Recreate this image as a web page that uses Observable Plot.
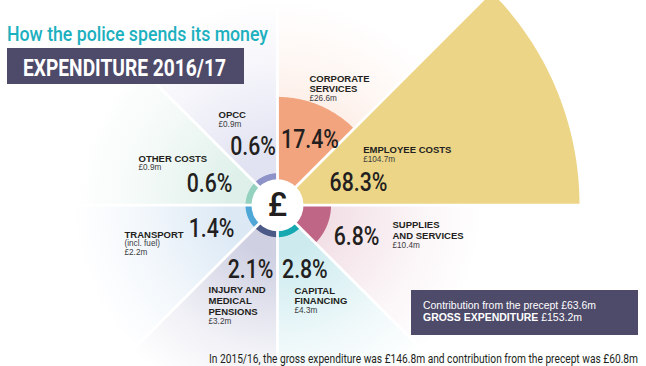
<!DOCTYPE html>
<html><head><meta charset="utf-8">
<script src="https://cdn.jsdelivr.net/npm/d3@7"></script>
<script src="https://cdn.jsdelivr.net/npm/@observablehq/plot@0.6"></script>
<style>
html,body{margin:0;padding:0;background:#fff;}
#wrap{position:relative;width:646px;height:366px;overflow:hidden;}
#chart{position:absolute;left:0;top:0;}
.t{position:absolute;white-space:nowrap;line-height:1;transform-origin:0 0;}
.box{position:absolute;background:#4e4a69;}
#title{left:7px;top:21.6px;font:500 21px Roboto,sans-serif;color:#1cb0bf;}
#subbox{left:7px;top:48px;width:237px;height:36px;}
#subtitle{left:23px;top:54.6px;font:700 23px Roboto,sans-serif;color:#fff;}
#infobox{left:411px;top:290px;width:227px;height:45px;}
#info1{left:423px;top:300.2px;font:400 10.4px "Liberation Sans",Arial,sans-serif;color:#fff;}
#info2{left:423px;top:312.2px;font:400 10.4px "Liberation Sans",Arial,sans-serif;color:#fff;}
#footer{left:209px;top:351px;font:400 12.4px Roboto,sans-serif;color:#231f20;}
</style></head>
<body>
<div id="wrap">
  <div id="chart"></div>
  <div id="title" class="t"></div>
  <div class="box" id="subbox"></div>
  <div id="subtitle" class="t"></div>
  <div class="box" id="infobox"></div>
  <div id="info1" class="t"></div>
  <div id="info2" class="t"></div>
  <div id="footer" class="t"></div>
</div>
<script>
// ---------- data ----------
const titleText = "How the police spends its money";
const subtitleText = "EXPENDITURE 2016/17";
const categories = ["CORPORATE\nSERVICES", "EMPLOYEE COSTS", "SUPPLIES\nAND SERVICES", "CAPITAL\nFINANCING",
                    "INJURY AND\nMEDICAL\nPENSIONS", "TRANSPORT", "OTHER COSTS", "OPCC"];
const notes = ["", "", "", "", "", "(incl. fuel)", "", ""];
const shares = [17.4, 68.3, 6.8, 2.8, 2.1, 1.4, 0.6, 0.6];        // % of gross expenditure
const amounts = [26.6, 104.7, 10.4, 4.3, 3.2, 2.2, 0.9, 0.9];     // £m
const precept = 63.6;
const grossExpenditure = 153.2;
const prevYear = "2015/16";
const prevGross = 146.8;
const prevPrecept = 60.8;

// ---------- styles ----------
const colors = ["#f2a47f", "#ecd587", "#bf6585", "#17a9b2", "#4b5a86", "#4ea7d6", "#94d2bf", "#8d92c8"];
const pale   = ["#fce4d8", "#fbf1d6", "#f2dfe6", "#cdebef", "#cfd0e2", "#dce9f5", "#dff0ea", "#e2e3f2"];

// ---------- layout (px offsets from the centre, y downward) ----------
const pctAt  = [[32.5,-57.7],[81,-14.7],[79,39.8],[27.4,72.3],[-27,72.3],[-66,32],[-68,-13],[-24.5,-50.7]];
const nameAt = [[32,-131.4],[85.7,-59.7],[115,15.3],[17,80.6],[-69,80.3],[-153,24.6],[-139,-51.4],[-59,-94.7]];

const W = 646, H = 366, CX = 277, CY = 204.7;
const R_MAX = 302, R_MIN = 32, R_HOLE = 26, R_BG = 240, R_GRAD = 205, GAP = 2.8;
const n = categories.length, SPAN = 360 / n;
const rad = Math.PI / 180;
const P = (r, a) => ({x: r * Math.sin(a * rad), y: r * Math.cos(a * rad)});
function wedge(r0, r1, a0, a1) {
  const pts = [], steps = 60;
  for (let k = 0; k <= steps; k++) pts.push(P(r1, a0 + (a1 - a0) * k / steps));
  if (r0 > 0) for (let k = steps; k >= 0; k--) pts.push(P(r0, a0 + (a1 - a0) * k / steps));
  else pts.push(P(0, 0));
  return pts;
}
const rScale = d3.scalePow().exponent(0.75).domain([0, d3.max(shares)]).range([0, R_MAX]);
const idx = d3.range(n);

const marks = [];
idx.forEach(i => marks.push(Plot.line(wedge(0, R_BG, i * SPAN, (i + 1) * SPAN),
  {x: "x", y: "y", fill: `url(#bg${i})`, stroke: "none"})));
idx.forEach(i => marks.push(Plot.line(wedge(0, Math.max(R_MIN, rScale(shares[i])), i * SPAN, (i + 1) * SPAN),
  {x: "x", y: "y", fill: colors[i], stroke: "none"})));
marks.push(Plot.link(idx, {
  x1: () => 0, y1: () => 0,
  x2: i => P(340, i * SPAN).x, y2: i => P(340, i * SPAN).y,
  stroke: "white", strokeWidth: GAP, strokeLinecap: "butt"
}));
marks.push(Plot.dot([0], {x: () => 0, y: () => 0, r: R_HOLE, fill: "white", stroke: "none"}));
marks.push(Plot.text(["£"], {x: () => 0, y: () => 0, text: d => d, fontSize: 33, fontWeight: 500,
  fontFamily: "Roboto", fill: "#231f20"}));
marks.push(Plot.text(idx, {
  x: i => pctAt[i][0], y: i => -pctAt[i][1], text: i => shares[i].toFixed(1) + "%",
  textAnchor: "middle", lineAnchor: "bottom", fontSize: 25, fontWeight: 500,
  fontFamily: "Roboto", fill: "#231f20"
}));
marks.push(Plot.text(idx, {
  x: i => nameAt[i][0], y: i => -nameAt[i][1], text: i => categories[i],
  textAnchor: "start", lineAnchor: "top", lineHeight: 1.15, fontSize: 9.5, fontWeight: 700,
  fontFamily: "Liberation Sans, Arial, sans-serif", fill: "#231f20"
}));
marks.push(Plot.text(idx, {
  x: i => nameAt[i][0],
  y: i => -nameAt[i][1] - (categories[i].split("\n").length * 11 - 0.3),
  text: i => (notes[i] ? notes[i] + "\n" : "") + "£" + amounts[i].toFixed(1) + "m",
  textAnchor: "start", lineAnchor: "top", lineHeight: 1.02, fontSize: 8.2, fontWeight: 400,
  fontFamily: "Liberation Sans, Arial, sans-serif", fill: "#3c3b3d"
}));

const chart = Plot.plot({
  width: W, height: H, margin: 0,
  style: {background: "transparent"},
  x: {domain: [-CX, W - CX], axis: null},
  y: {domain: [-(H - CY), CY], axis: null},
  marks
});

// radial gradients for the pale background sectors
const ns = "http://www.w3.org/2000/svg";
const defs = document.createElementNS(ns, "defs");
const gx = chart.scale("x").apply(0), gy = chart.scale("y").apply(0);
const gr = chart.scale("x").apply(R_GRAD) - gx;
pale.forEach((c, i) => {
  const g = document.createElementNS(ns, "radialGradient");
  g.setAttribute("id", "bg" + i);
  g.setAttribute("gradientUnits", "userSpaceOnUse");
  g.setAttribute("cx", gx); g.setAttribute("cy", gy); g.setAttribute("r", gr);
  [[0, 1], [0.25, 1], [0.7, 0.3], [1, 0]].forEach(([o, a]) => {
    const s = document.createElementNS(ns, "stop");
    s.setAttribute("offset", o); s.setAttribute("stop-color", c); s.setAttribute("stop-opacity", a);
    g.appendChild(s);
  });
  defs.appendChild(g);
});
chart.insertBefore(defs, chart.firstChild);
document.getElementById("chart").appendChild(chart);

// condensed percentage figures
chart.querySelectorAll("text").forEach(t => {
  if (/%$/.test(t.textContent)) t.setAttribute("transform", t.getAttribute("transform") + " scale(0.85,1)");
});

// header / info / footer
const fmt = v => "£" + v.toFixed(1) + "m";
document.getElementById("title").textContent = titleText;
document.getElementById("subtitle").textContent = subtitleText;
document.getElementById("info1").textContent = "Contribution from the precept " + fmt(precept);
document.getElementById("info2").innerHTML = "<b>GROSS EXPENDITURE</b> " + fmt(grossExpenditure);
document.getElementById("footer").textContent =
  `In ${prevYear}, the gross expenditure was ${fmt(prevGross)} and contribution from the precept was ${fmt(prevPrecept)}`;
function fit(id, w) {
  const el = document.getElementById(id);
  const cw = el.getBoundingClientRect().width;
  el.style.transform = `scaleX(${w / cw})`;
}
fit("title", 261); fit("subtitle", 203); fit("footer", 429); fit("info1", 173); fit("info2", 159);
</script>
</body></html>
